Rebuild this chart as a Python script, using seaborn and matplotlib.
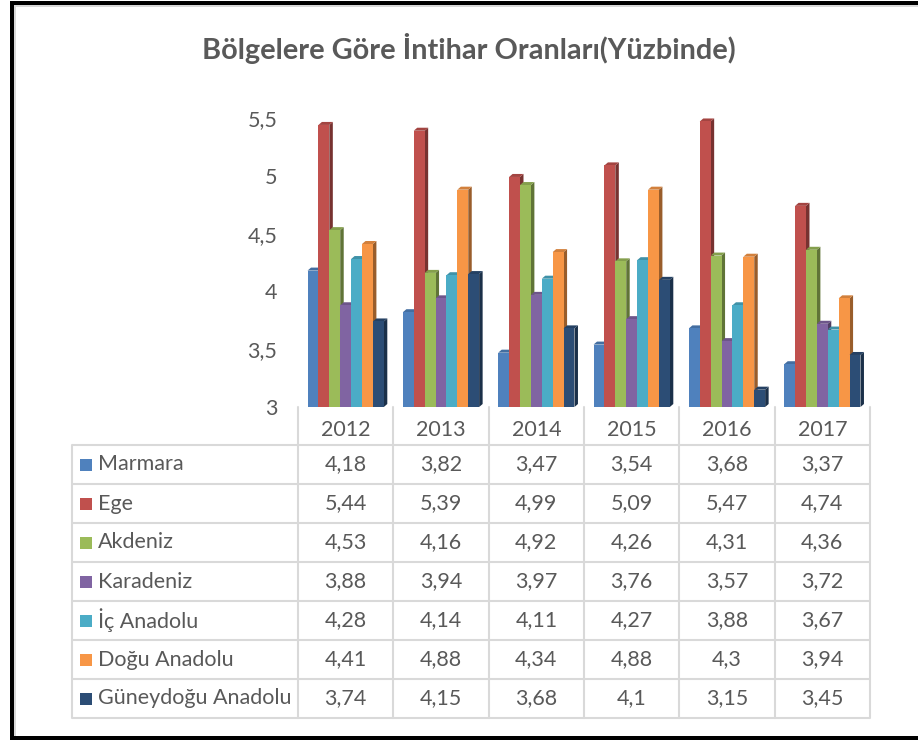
import pandas as pd
import seaborn as sns
import matplotlib.pyplot as plt
from matplotlib.patches import Polygon, Rectangle
from matplotlib.ticker import FuncFormatter
from matplotlib.colors import to_rgb

years = ['2012', '2013', '2014', '2015', '2016', '2017']
regions = ['Marmara', 'Ege', 'Akdeniz', 'Karadeniz', 'İç Anadolu',
           'Doğu Anadolu', 'Güneydoğu Anadolu']
marmara = [4.18, 3.82, 3.47, 3.54, 3.68, 3.37]
ege = [5.44, 5.39, 4.99, 5.09, 5.47, 4.74]
akdeniz = [4.53, 4.16, 4.92, 4.26, 4.31, 4.36]
karadeniz = [3.88, 3.94, 3.97, 3.76, 3.57, 3.72]
ic_anadolu = [4.28, 4.14, 4.11, 4.27, 3.88, 3.67]
dogu_anadolu = [4.41, 4.88, 4.34, 4.88, 4.3, 3.94]
guneydogu = [3.74, 4.15, 3.68, 4.1, 3.15, 3.45]
colors = ['#4F81BD', '#C0504D', '#9BBB59', '#8064A2', '#4BACC6',
          '#F79646', '#2C4D75']

series = [marmara, ege, akdeniz, karadeniz, ic_anadolu, dogu_anadolu, guneydogu]
rows = []
for reg, vals in zip(regions, series):
    for yr, v in zip(years, vals):
        rows.append({'Yıl': yr, 'Bölge': reg, 'Oran': v})
df = pd.DataFrame(rows)


def fmt(v):
    return f'{v:g}'.replace('.', ',')


sns.set_theme(style='white')
plt.rcParams['font.family'] = ['Lato', 'DejaVu Sans']
TXT = '#595959'
GRID = '#D9D9D9'
FS = 15.5

W, H = 918, 740
fig = plt.figure(figsize=(W / 100, H / 100), dpi=100)

# plot area in pixels
left, right, top, bottom = 298, 870, 118, 407
ax = fig.add_axes([left / W, 1 - bottom / H, (right - left) / W, (bottom - top) / H])
sns.barplot(data=df, x='Yıl', y='Oran', hue='Bölge', palette=colors,
            saturation=1, width=0.8, ax=ax, legend=False,
            edgecolor='none', linewidth=0)
ax.set_xlim(-0.5, 5.5)
ax.set_ylim(3, 5.5)
ax.set_yticks([3, 3.5, 4, 4.5, 5, 5.5])
ax.yaxis.set_major_formatter(FuncFormatter(lambda v, p: fmt(v)))
ax.set_xticks([])
ax.set_xlabel('')
ax.set_ylabel('')
for s in ax.spines.values():
    s.set_visible(False)
ax.tick_params(axis='y', length=0, labelsize=FS, labelcolor=TXT, pad=15)

# fake 3D depth on each bar
dx = 3.5 * 6 / (right - left)
dy = 3 * 2.5 / (bottom - top)
for i, cont in enumerate(ax.containers):
    base = to_rgb(colors[i])
    side = tuple(c * 0.62 for c in base)
    cap = tuple(c * 0.85 for c in base)
    for bar in cont:
        x0 = bar.get_x()
        x1 = x0 + bar.get_width()
        h = bar.get_height()
        bar.set_zorder(2 + i * 0.1 + 0.05)
        ax.add_patch(Polygon([(x1, 3), (x1, h), (x1 + dx, h + dy), (x1 + dx, 3 + dy)],
                             closed=True, facecolor=side, edgecolor='none', zorder=2 + i * 0.1))
        ax.add_patch(Polygon([(x0, h), (x0 + dx, h + dy), (x1 + dx, h + dy), (x1, h)],
                             closed=True, facecolor=cap, edgecolor='none', zorder=2 + i * 0.1))

# title
fig.text(469 / W, 1 - 48 / H, 'Bölgelere Göre İntihar Oranları(Yüzbinde)',
         ha='center', va='center', fontsize=20.8, fontweight='bold', color=TXT)

# data table drawn on an overlay in pixel coordinates
tab = fig.add_axes([0, 0, 1, 1])
tab.set_xlim(0, W)
tab.set_ylim(H, 0)
tab.axis('off')
tab.patch.set_visible(False)

col_w = (right - left) / len(years)
col_x = [left + k * col_w for k in range(len(years) + 1)]
t_left = 72
row_h = 39
row_y = [445 + k * row_h for k in range(len(regions) + 1)]
lw = 1.5

for y in row_y:
    tab.plot([t_left, right], [y, y], color=GRID, lw=lw, solid_capstyle='butt')
tab.plot([t_left, t_left], [row_y[0], row_y[-1]], color=GRID, lw=lw)
for x in col_x:
    tab.plot([x, x], [bottom, row_y[-1]], color=GRID, lw=lw)

for k, yr in enumerate(years):
    tab.text((col_x[k] + col_x[k + 1]) / 2, 430, yr, ha='center', va='center',
             fontsize=FS, color=TXT)

for r, (reg, vals) in enumerate(zip(regions, series)):
    yc = (row_y[r] + row_y[r + 1]) / 2
    tab.add_patch(Rectangle((80, yc - 6), 12, 12, facecolor=colors[r], edgecolor='none'))
    tab.text(98, yc, reg, ha='left', va='center', fontsize=FS, color=TXT)
    for k, v in enumerate(vals):
        tab.text((col_x[k] + col_x[k + 1]) / 2, yc, fmt(v), ha='center',
                 va='center', fontsize=FS, color=TXT)

# black frame on left, top and bottom
tab.add_patch(Rectangle((10, 1), 4, H, facecolor='black', edgecolor='none'))
tab.add_patch(Rectangle((10, 1), W, 4, facecolor='black', edgecolor='none'))
tab.add_patch(Rectangle((10, 736), W, 5, facecolor='black', edgecolor='none'))
tab.add_patch(Rectangle((14, 5), 1.5, 731, facecolor=GRID, edgecolor='none'))
tab.add_patch(Rectangle((14, 5), W, 1.5, facecolor=GRID, edgecolor='none'))

fig.savefig('out.png', dpi=100)
